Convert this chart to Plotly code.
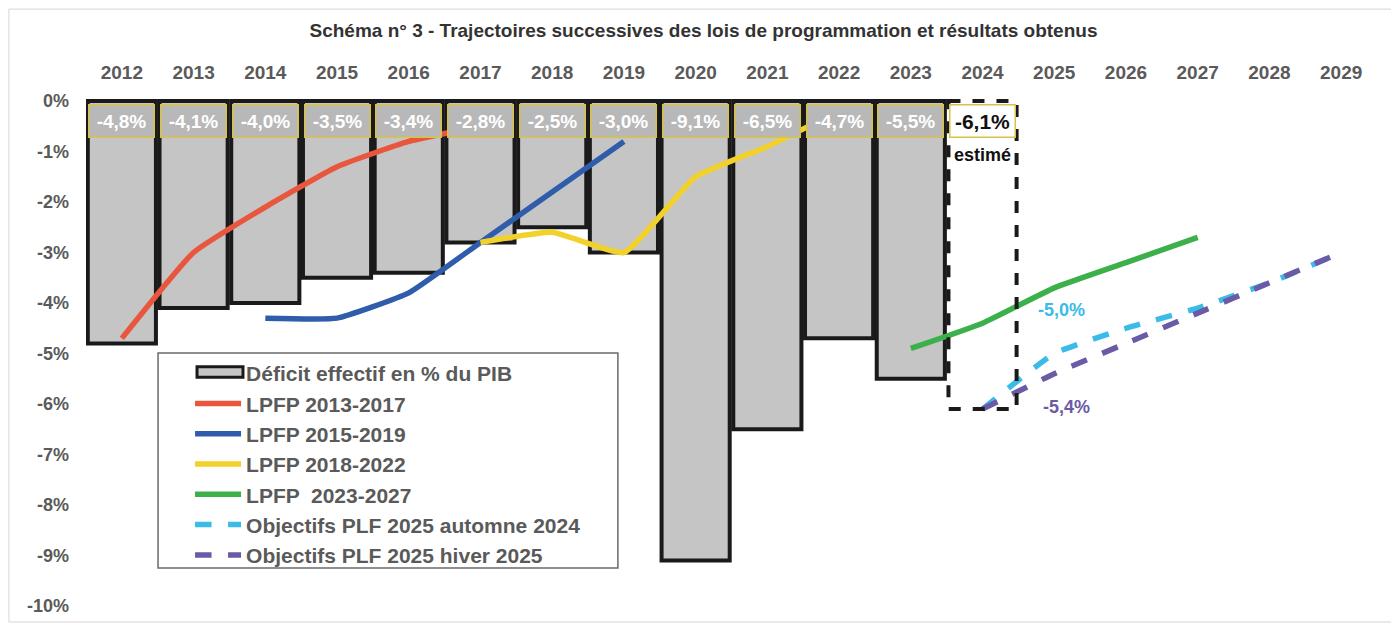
import plotly.graph_objects as go

years = list(range(2012, 2025))
deficit = [-4.8, -4.1, -4.0, -3.5, -3.4, -2.8, -2.5, -3.0, -9.1, -6.5, -4.7, -5.5, -6.1]
deficit_labels = ["-4,8%", "-4,1%", "-4,0%", "-3,5%", "-3,4%", "-2,8%", "-2,5%",
                  "-3,0%", "-9,1%", "-6,5%", "-4,7%", "-5,5%", "-6,1%"]

lpfp_13_years = [2012, 2013, 2014, 2015, 2016, 2017]
lpfp_13 = [-4.7, -3.0, -2.1, -1.3, -0.8, -0.5]

lpfp_15_years = [2014, 2015, 2016, 2017, 2018, 2019]
lpfp_15 = [-4.3, -4.3, -3.8, -2.8, -1.8, -0.8]

lpfp_18_years = [2017, 2018, 2019, 2020, 2021, 2022]
lpfp_18 = [-2.8, -2.6, -3.0, -1.5, -0.9, -0.2]

lpfp_23_years = [2023, 2024, 2025, 2026, 2027]
lpfp_23 = [-4.9, -4.4, -3.7, -3.2, -2.7]

plf_years = [2024, 2025, 2026, 2027, 2028, 2029]
plf_automne = [-6.1, -5.0, -4.5, -4.1, -3.6, -3.0]
plf_hiver = [-6.1, -5.4, -4.8, -4.2, -3.6, -3.0]

all_years = list(range(2012, 2030))
y_ticks = [0, -1, -2, -3, -4, -5, -6, -7, -8, -9, -10]

GREY_TXT = "#5a5a5a"
BAR_FILL = "#c5c5c5"
BAR_EDGE = "#1a1a1a"
BAR_W = 0.95
FONT = "Arial, Liberation Sans, sans-serif"

fig = go.Figure()

# legend entry for the bars (symbol drawn as a shape below)
fig.add_trace(go.Scatter(x=[None], y=[None], mode="lines", name="Déficit effectif en % du PIB",
                         line=dict(color="rgba(0,0,0,0)", width=1), hoverinfo="skip"))

n = len(years)
fig.add_trace(go.Bar(
    x=years, y=deficit, width=BAR_W, showlegend=False,
    name="Déficit effectif en % du PIB",
    marker=dict(color=[BAR_FILL] * (n - 1) + ["white"],
                line=dict(color=BAR_EDGE, width=[4] * (n - 1) + [0])),
    hoverinfo="x+y",
))

lines = [
    ("LPFP 2013-2017", lpfp_13_years, lpfp_13, "#e8573d", "solid"),
    ("LPFP 2015-2019", lpfp_15_years, lpfp_15, "#2f5dab", "solid"),
    ("LPFP 2018-2022", lpfp_18_years, lpfp_18, "#f2d22a", "solid"),
    ("LPFP  2023-2027", lpfp_23_years, lpfp_23, "#3cb04b", "solid"),
    ("Objectifs PLF 2025 automne 2024", plf_years, plf_automne, "#3bbbe8", "dash"),
    ("Objectifs PLF 2025 hiver 2025", plf_years, plf_hiver, "#6b5aa6", "dash"),
]
for name, xs, ys, col, dash in lines:
    fig.add_trace(go.Scatter(
        x=xs, y=ys, mode="lines", name=name,
        line=dict(color=col, width=5.5, dash=dash, shape="spline", smoothing=0.4),
    ))

# dashed outline for the estimated 2024 bar
x24, v24 = years[-1], deficit[-1]
fig.add_shape(type="rect", xref="x", yref="y",
              x0=x24 - BAR_W / 2, x1=x24 + BAR_W / 2, y0=0, y1=v24,
              line=dict(color=BAR_EDGE, width=4, dash="dash"), layer="above")

# value labels at the top of the bars
for i, (yr, lab) in enumerate(zip(years, deficit_labels)):
    last = i == n - 1
    fig.add_annotation(
        x=yr, y=-0.40, text=f"<b>{lab}</b>", showarrow=False,
        font=dict(family=FONT, size=21 if last else 19,
                  color="#111111" if last else "white"),
        bgcolor="white" if last else "#b8b8b8",
        bordercolor="#d8c24a", borderwidth=1.5, borderpad=1,
        width=62, height=29,
    )
fig.add_annotation(x=x24, y=-1.06, text="<b>estimé</b>", showarrow=False,
                   font=dict(family=FONT, size=18, color="#111111"))

fig.add_annotation(x=2025.1, y=-4.14, text="<b>-5,0%</b>", showarrow=False,
                   font=dict(family=FONT, size=18, color="#3bbbe8"))
fig.add_annotation(x=2025.17, y=-6.06, text="<b>-5,4%</b>", showarrow=False,
                   font=dict(family=FONT, size=18, color="#6b5aa6"))

fig.update_layout(
    width=1391, height=618,
    paper_bgcolor="white", plot_bgcolor="white",
    margin=dict(l=78, r=22, t=89, b=15),
    title=dict(text="<b>Schéma n° 3 - Trajectoires successives des lois de programmation et résultats obtenus</b>",
               x=0.5, xanchor="center", y=0.964, yanchor="middle",
               font=dict(family=FONT, size=19, color="#333333")),
    font=dict(family=FONT, color=GREY_TXT),
    bargap=0.05,
    showlegend=True,
    legend=dict(
        x=0.0806, y=0.502, xanchor="left", yanchor="top",
        bgcolor="rgba(0,0,0,0)", borderwidth=0,
        font=dict(family=FONT, size=21, color=GREY_TXT, weight="bold"),
        itemwidth=46, tracegroupgap=0,
    ),
    xaxis=dict(
        side="top", range=[2011.5, 2029.5], tickmode="array", tickvals=all_years,
        ticktext=[f"<b>{y}</b>" for y in all_years], showgrid=False, zeroline=False,
        showline=False, ticks="", automargin=False, ticklabelstandoff=13,
        tickfont=dict(family=FONT, size=19, color=GREY_TXT),
    ),
    yaxis=dict(
        range=[-10.1, 0.08], tickmode="array", tickvals=y_ticks,
        ticktext=[f"<b>{v}%</b>" for v in y_ticks], showgrid=False, zeroline=False,
        showline=False, ticks="", automargin=False, ticklabelstandoff=16,
        tickfont=dict(family=FONT, size=18, color=GREY_TXT),
    ),
)

# legend frame and bar symbol
fig.add_shape(type="rect", xref="paper", yref="paper", x0=0.0558, x1=0.412, y0=0.0837, y1=0.502,
              line=dict(color="#6a6a6a", width=1.5), fillcolor="white", layer="below")
fig.add_shape(type="rect", xref="paper", yref="paper", x0=0.086, x1=0.1216, y0=0.455, y1=0.475,
              line=dict(color=BAR_EDGE, width=3), fillcolor=BAR_FILL, layer="above")

# light frame round the whole chart
fig.add_shape(type="rect", xref="paper", yref="paper", x0=-0.0597, x1=1.0124, y0=-0.0214, y1=1.171,
              line=dict(color="#d5d5d5", width=1), layer="below")

fig.write_html("out.html")
